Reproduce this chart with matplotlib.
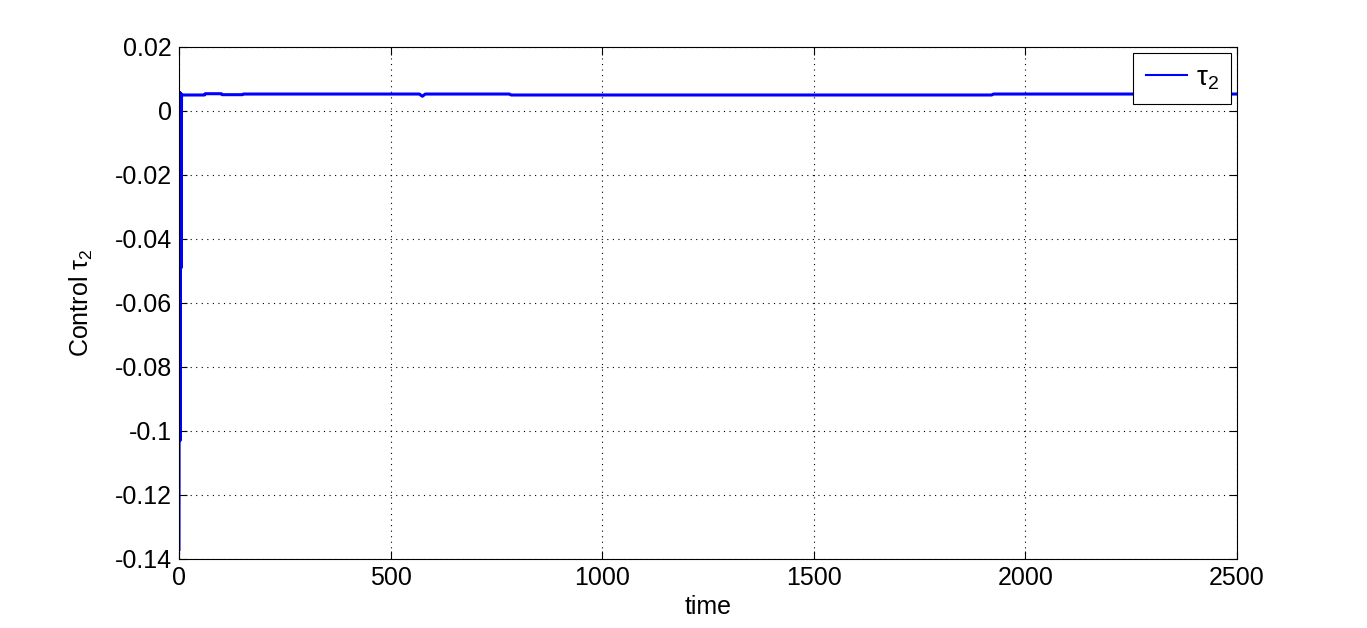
"""Control input tau_2 over time."""

import matplotlib

matplotlib.use("Agg")
import matplotlib.pyplot as plt

plt.rcParams["font.family"] = ["Liberation Sans", "DejaVu Sans"]
plt.rcParams["mathtext.fontset"] = "custom"
plt.rcParams["mathtext.rm"] = "Liberation Sans"

# breakpoints of the control signal
time = [0, 0.8, 1.6, 2.4, 3.2, 4.0, 5.0, 6.0, 7.0, 8.0, 10, 60, 62, 100, 102, 150, 152,
        568, 575, 582, 590, 780, 785, 1920, 1925, 2500]
tau2 = [-0.137, 0.0058, 0.0058, -0.103, 0.0056, 0.0055, -0.049, 0.0052, 0.0050, 0.0050,
        0.0050, 0.0050, 0.0054, 0.0054, 0.0051, 0.0051, 0.0053,
        0.0053, 0.0046, 0.0053, 0.0053, 0.0053, 0.0050, 0.0050, 0.0053, 0.0053]

xticks = [0, 500, 1000, 1500, 2000, 2500]
yticks = [0.02, 0, -0.02, -0.04, -0.06, -0.08, -0.1, -0.12, -0.14]
yticklabels = ["0.02", "0", "-0.02", "-0.04", "-0.06", "-0.08", "-0.1", "-0.12", "-0.14"]


def main():
    fig = plt.figure(figsize=(13.67, 6.28), dpi=100)
    ax = fig.add_axes([179 / 1367, 1 - 559 / 628, (1237 - 179) / 1367, (559 - 47) / 628])
    ax.plot(time, tau2, color="#0000ff", linewidth=2.2, label="τ$_2$")
    ax.set_xlim(0, 2500)
    ax.set_ylim(-0.14, 0.02)
    ax.set_xticks(xticks)
    ax.set_yticks(yticks)
    ax.set_yticklabels(yticklabels)
    ax.tick_params(labelsize=18, direction="in", length=6, top=True, right=True, pad=5)
    ax.grid(True, color="black", linestyle=(0, (1, 4)), linewidth=0.8)
    ax.set_xlabel("time", fontsize=18, labelpad=4)
    ax.set_ylabel("Control τ$_2$", fontsize=18, labelpad=14)
    leg = ax.legend(loc="upper right", fontsize=20, fancybox=False, framealpha=1,
                    edgecolor="black", borderaxespad=0.2, handlelength=1.5,
                    borderpad=0.45, handletextpad=0.3)
    leg.get_frame().set_linewidth(0.8)
    leg.get_lines()[0].set_linewidth(1.5)
    fig.savefig("out.png", dpi=100)
    plt.close(fig)


if __name__ == "__main__":
    main()
